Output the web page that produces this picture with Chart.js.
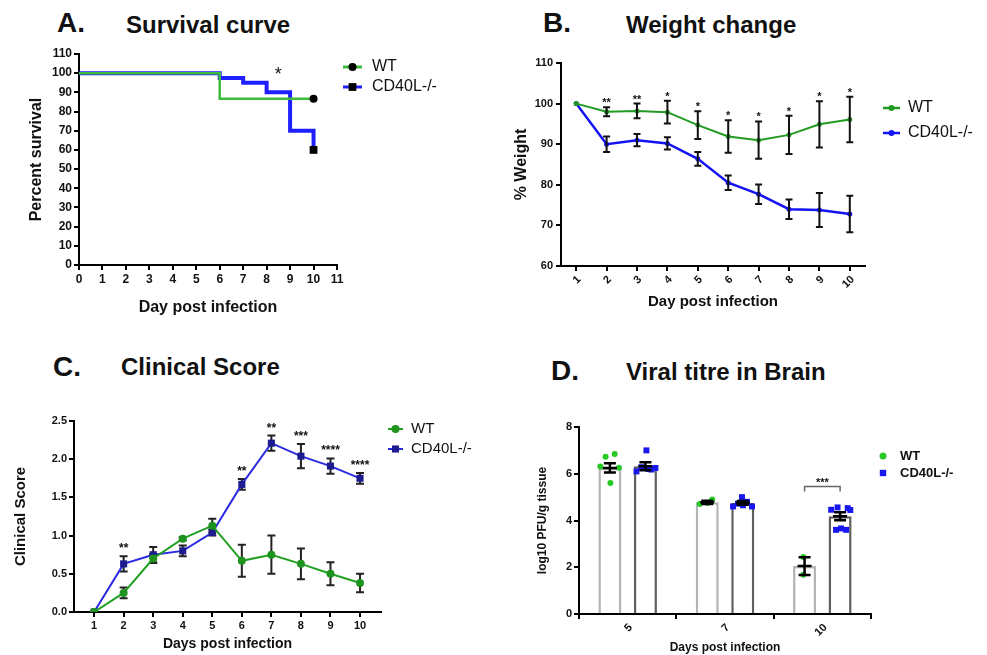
<!DOCTYPE html>
<html>
<head>
<meta charset="utf-8">
<script src="https://cdn.jsdelivr.net/npm/chart.js@4.4.1/dist/chart.umd.min.js"></script>
<style>
html, body { margin: 0; padding: 0; background: #fff; }
body { width: 987px; height: 655px; position: relative; overflow: hidden; font-family: "Liberation Sans", Arial, sans-serif; }
.lbl { position: absolute; font-weight: bold; color: #111; line-height: 1; white-space: nowrap; }
canvas { position: absolute; }
</style>
</head>
<body>
<div class="lbl" style="left:57px;top:9px;font-size:28px">A.</div>
<div class="lbl" style="left:126px;top:13px;font-size:24px">Survival curve</div>
<div class="lbl" style="left:543px;top:9px;font-size:28px">B.</div>
<div class="lbl" style="left:626px;top:13px;font-size:24px">Weight change</div>
<div class="lbl" style="left:53px;top:353px;font-size:28px">C.</div>
<div class="lbl" style="left:121px;top:355px;font-size:24px">Clinical Score</div>
<div class="lbl" style="left:551px;top:357px;font-size:28px">D.</div>
<div class="lbl" style="left:626px;top:360px;font-size:24px">Viral titre in Brain</div>

<canvas id="chartA" width="480" height="285" style="left:0;top:40px"></canvas>
<canvas id="chartB" width="487" height="285" style="left:500px;top:40px"></canvas>
<canvas id="chartC" width="500" height="265" style="left:0;top:390px"></canvas>
<canvas id="chartD" width="487" height="265" style="left:500px;top:390px"></canvas>

<script>
// ---- A. survival ----
const wtSurvivalDays = [0, 6, 10];
const wtSurvival = [100, 86.7, 86.7];
const cdSurvivalDays = [0, 6, 7, 8, 9, 10];
const cdSurvival = [100, 97.5, 95, 90, 70, 60];
const survivalNote = { x: 8.5, y: 100.5, text: '*' };

// ---- B. weight ----
const weightDays = ['1', '2', '3', '4', '5', '6', '7', '8', '9', '10'];
const wtWeight = [100, 98.0, 98.2, 97.9, 94.7, 91.9, 91.0, 92.3, 94.9, 96.1];
const wtWeightErr = [0, 1.1, 1.8, 2.8, 3.4, 4.0, 4.6, 4.7, 5.7, 5.6];
const cdWeight = [100, 90.0, 91.0, 90.2, 86.4, 80.5, 77.7, 74.0, 73.8, 72.8];
const cdWeightErr = [0, 1.9, 1.5, 1.5, 1.7, 1.8, 2.4, 2.4, 4.2, 4.5];
const weightStars = ['', '**', '**', '*', '*', '*', '*', '*', '*', '*'];

// ---- C. clinical score ----
const scoreDays = [1, 2, 3, 4, 5, 6, 7, 8, 9, 10];
const wtScore = [0, 0.25, 0.70, 0.96, 1.13, 0.67, 0.75, 0.63, 0.50, 0.38];
const wtScoreErr = [0, 0.07, 0.06, 0.02, 0.09, 0.21, 0.25, 0.20, 0.15, 0.12];
const cdScore = [0, 0.63, 0.75, 0.80, 1.04, 1.67, 2.21, 2.04, 1.91, 1.75];
const cdScoreErr = [0, 0.10, 0.10, 0.07, 0.04, 0.07, 0.10, 0.16, 0.10, 0.07];
const scoreStars = ['', '**', '', '', '', '**', '**', '***', '****', '****'];

// ---- D. viral titre ----
const titreDays = ['5', '7', '10'];
const wtTitre = [6.25, 4.78, 2.05];
const wtTitreErr = [0.20, 0.07, 0.38];
const cdTitre = [6.32, 4.75, 4.18];
const cdTitreErr = [0.17, 0.08, 0.17];
const wtTitrePoints = [[6.73, 6.84, 6.31, 6.26, 5.60], [4.71, 4.90, 4.75], [2.44, 1.68]];
const wtTitreJitter = [[-0.044, 0.049, -0.098, 0.093, 0.005], [-0.077, 0.051, 0], [-0.013, -0.013]];
const cdTitrePoints = [[7.0, 6.1, 6.28, 6.2, 6.25, 6.18], [4.6, 5.0, 4.6, 4.72, 4.8, 4.65], [4.46, 4.56, 4.53, 4.45, 3.6, 3.66, 3.6]];
const cdTitreJitter = [[0.01, -0.092, -0.041, 0.031, 0.103, 0.062], [-0.1, -0.008, 0.095, -0.049, 0.044, 0.003], [-0.092, -0.026, 0.078, 0.105, -0.042, 0.01, 0.062]];
const titreBracket = { index: 2, y: 5.45, text: '***' };

const FONT = '"Liberation Sans", Arial, sans-serif';
Chart.defaults.font.family = FONT;
Chart.defaults.color = '#111';

function marker(ctx, style, x, y, r, color) {
    ctx.fillStyle = color;
    ctx.beginPath();
    if (style === 'rect') { const h = r * Math.SQRT1_2; ctx.rect(x - h, y - h, 2 * h, 2 * h); }
    else ctx.arc(x, y, r, 0, Math.PI * 2);
    ctx.fill();
}

// legend drawn at the side, line + marker like the original
const sideLegend = {
    id: 'sideLegend',
    afterDraw(chart, args, o) {
        const ctx = chart.ctx;
        ctx.save();
        o.order.forEach((di, k) => {
            const ds = chart.data.datasets[di];
            const y = o.y + k * o.gap;
            if (o.line) {
                ctx.strokeStyle = ds.borderColor; ctx.lineWidth = o.lineWidth;
                ctx.beginPath(); ctx.moveTo(o.lineFrom, y); ctx.lineTo(o.lineTo, y); ctx.stroke();
            }
            marker(ctx, ds.pointStyle, o.markerX, y, o.r[k], ds.pointBackgroundColor || ds.backgroundColor);
            ctx.fillStyle = '#111'; ctx.font = o.font; ctx.textBaseline = 'middle'; ctx.textAlign = 'left';
            ctx.fillText(ds.label, o.textX, y);
        });
        ctx.restore();
    }
};

function drawErrors(chart, o) {
    const ctx = chart.ctx, ys = chart.scales.y;
    ctx.save();
    ctx.strokeStyle = o.color; ctx.lineWidth = o.width; ctx.lineCap = 'butt';
    chart.data.datasets.forEach((ds, di) => {
        if (!ds.errors) return;
        const meta = chart.getDatasetMeta(di);
        meta.data.forEach((el, i) => {
            const e = ds.errors[i];
            if (!e) return;
            const v = meta.controller.getParsed(i).y;
            const t = ys.getPixelForValue(v + e), b = ys.getPixelForValue(v - e), x = el.x;
            ctx.beginPath();
            ctx.moveTo(x, t); ctx.lineTo(x, b);
            ctx.moveTo(x - o.cap, t); ctx.lineTo(x + o.cap, t);
            ctx.moveTo(x - o.cap, b); ctx.lineTo(x + o.cap, b);
            if (o.mean) { const m = ys.getPixelForValue(v); ctx.moveTo(x - o.mean, m); ctx.lineTo(x + o.mean, m); }
            ctx.stroke();
        });
    });
    ctx.restore();
}
const errorBars = {
    id: 'errorBars',
    beforeDatasetsDraw(chart, a, o) { if (o.under) drawErrors(chart, o); },
    afterDatasetsDraw(chart, a, o) { if (!o.under) drawErrors(chart, o); }
};

// significance marks above the highest error bar of each day
const stars = {
    id: 'stars',
    afterDatasetsDraw(chart, a, o) {
        if (!o.marks) return;
        const ctx = chart.ctx, ys = chart.scales.y;
        ctx.save();
        ctx.font = o.font; ctx.fillStyle = '#111'; ctx.textAlign = 'center'; ctx.textBaseline = 'alphabetic';
        o.marks.forEach((s, i) => {
            if (!s) return;
            let top = Infinity;
            chart.data.datasets.forEach((ds, di) => {
                const v = chart.getDatasetMeta(di).controller.getParsed(i).y;
                top = Math.min(top, ys.getPixelForValue(v + (ds.errors ? ds.errors[i] : 0)));
            });
            ctx.fillText(s, chart.getDatasetMeta(0).data[i].x, top - o.gap);
        });
        ctx.restore();
    }
};

const note = {
    id: 'note',
    afterDatasetsDraw(chart, a, o) {
        if (!o.text) return;
        const ctx = chart.ctx;
        ctx.save();
        ctx.font = o.font; ctx.fillStyle = '#111'; ctx.textAlign = 'center'; ctx.textBaseline = 'middle';
        ctx.fillText(o.text, chart.scales.x.getPixelForValue(o.x), chart.scales.y.getPixelForValue(o.y) + 3);
        ctx.restore();
    }
};

const bracket = {
    id: 'bracket',
    afterDatasetsDraw(chart, a, o) {
        if (o.text == null) return;
        const ctx = chart.ctx;
        const x1 = chart.getDatasetMeta(0).data[o.index].x, x2 = chart.getDatasetMeta(1).data[o.index].x;
        const y = chart.scales.y.getPixelForValue(o.y);
        ctx.save();
        ctx.strokeStyle = '#666'; ctx.lineWidth = 1.5;
        ctx.beginPath(); ctx.moveTo(x1, y + 5); ctx.lineTo(x1, y); ctx.lineTo(x2, y); ctx.lineTo(x2, y + 5); ctx.stroke();
        ctx.font = 'bold 11px ' + FONT; ctx.fillStyle = '#111'; ctx.textAlign = 'center'; ctx.textBaseline = 'alphabetic';
        ctx.fillText(o.text, (x1 + x2) / 2, y - 1);
        ctx.restore();
    }
};

function axis(extra) {
    return Object.assign({
        border: { color: '#000', width: 2 },
        grid: { drawOnChartArea: false, color: '#000', lineWidth: 2, tickLength: 5 }
    }, extra);
}

const base = {
    responsive: false,
    animation: false,
    events: []
};

// ---------- A ----------
new Chart(document.getElementById('chartA'), {
    type: 'line',
    data: {
        datasets: [
            {
                label: 'WT',
                data: wtSurvivalDays.map((d, i) => ({ x: d, y: wtSurvival[i] })),
                borderColor: '#3cbb3c', borderWidth: 2.5, stepped: true,
                pointStyle: 'circle', pointBackgroundColor: '#000', pointBorderWidth: 0,
                pointRadius: wtSurvival.map((v, i) => i === wtSurvival.length - 1 ? 4 : 0)
            },
            {
                label: 'CD40L-/-',
                data: cdSurvivalDays.map((d, i) => ({ x: d, y: cdSurvival[i] })),
                borderColor: '#1f1fff', borderWidth: 4, stepped: true,
                pointStyle: 'rect', pointBackgroundColor: '#000', pointBorderWidth: 0,
                pointRadius: cdSurvival.map((v, i) => i === cdSurvival.length - 1 ? 5.5 : 0)
            }
        ]
    },
    options: Object.assign({}, base, {
        layout: { padding: { left: 0, top: 14, right: 143, bottom: 0 } },
        plugins: {
            legend: { display: false }, tooltip: { enabled: false },
            sideLegend: { order: [0, 1], y: 27, gap: 20, line: true, lineWidth: 3, lineFrom: 343, lineTo: 362, markerX: 352.5, r: [4, 5.5], textX: 372, font: '16px ' + FONT },
            note: Object.assign({ font: '18px ' + FONT }, survivalNote)
        },
        scales: {
            x: axis({
                type: 'linear', min: 0, max: 11,
                ticks: { stepSize: 1, padding: 2, font: { size: 12, weight: 'bold' } },
                title: { display: true, text: 'Day post infection', font: { size: 16, weight: 'bold' }, padding: { top: 0, bottom: 8 } },
                afterFit: s => { s.height = 60; }
            }),
            y: axis({
                type: 'linear', min: 0, max: 110,
                ticks: { stepSize: 10, padding: 2, font: { size: 12, weight: 'bold' } },
                title: { display: true, text: 'Percent survival', font: { size: 16, weight: 'bold' }, padding: { top: 27, bottom: 0 } },
                afterFit: s => { s.width = 79; }
            })
        }
    }),
    plugins: [sideLegend, note]
});

// ---------- B ----------
new Chart(document.getElementById('chartB'), {
    type: 'line',
    data: {
        labels: weightDays,
        datasets: [
            { label: 'WT', data: wtWeight, errors: wtWeightErr, borderColor: '#229a22', borderWidth: 2, pointStyle: 'circle', pointRadius: 2.5, pointBackgroundColor: '#229a22', pointBorderWidth: 0 },
            { label: 'CD40L-/-', data: cdWeight, errors: cdWeightErr, borderColor: '#1414f2', borderWidth: 2.5, pointStyle: 'circle', pointRadius: 2.5, pointBackgroundColor: '#1414f2', pointBorderWidth: 0 }
        ]
    },
    options: Object.assign({}, base, {
        layout: { padding: { left: 0, top: 23, right: 122, bottom: 0 } },
        plugins: {
            legend: { display: false }, tooltip: { enabled: false },
            sideLegend: { order: [0, 1], y: 68, gap: 25, line: true, lineWidth: 2.5, lineFrom: 383, lineTo: 400, markerX: 391.5, r: [3, 3], textX: 408, font: '16px ' + FONT },
            errorBars: { color: '#111', width: 2, cap: 3.5, under: false },
            stars: { marks: weightStars, font: 'bold 11px ' + FONT, gap: 1 }
        },
        scales: {
            x: axis({
                offset: true,
                grid: { drawOnChartArea: false, color: '#000', lineWidth: 2, tickLength: 5, offset: false },
                ticks: { minRotation: 45, maxRotation: 45, autoSkip: false, padding: 2, labelOffset: 3, font: { size: 11, weight: 'bold' } },
                title: { display: true, text: 'Day post infection', font: { size: 15, weight: 'bold' }, padding: { top: 0, bottom: 14 } },
                afterFit: s => { s.height = 59; }
            }),
            y: axis({
                min: 60, max: 110,
                ticks: { stepSize: 10, padding: 3, font: { size: 11, weight: 'bold' } },
                title: { display: true, text: '% Weight', font: { size: 16, weight: 'bold' }, padding: { top: 12, bottom: 0 } },
                afterFit: s => { s.width = 61; }
            })
        }
    }),
    plugins: [sideLegend, errorBars, stars]
});

// ---------- C ----------
new Chart(document.getElementById('chartC'), {
    type: 'line',
    data: {
        datasets: [
            { label: 'WT', data: scoreDays.map((d, i) => ({ x: d, y: wtScore[i] })), errors: wtScoreErr, borderColor: '#22a022', borderWidth: 2, pointStyle: 'circle', pointRadius: 4, pointBackgroundColor: '#1e941e', pointBorderWidth: 0 },
            { label: 'CD40L-/-', data: scoreDays.map((d, i) => ({ x: d, y: cdScore[i] })), errors: cdScoreErr, borderColor: '#2a2ae0', borderWidth: 2, pointStyle: 'rect', pointRadius: 5, pointBackgroundColor: '#1c1c8e', pointBorderWidth: 0 }
        ]
    },
    options: Object.assign({}, base, {
        layout: { padding: { left: 0, top: 31, right: 119, bottom: 0 } },
        plugins: {
            legend: { display: false }, tooltip: { enabled: false },
            sideLegend: { order: [0, 1], y: 39, gap: 20, line: true, lineWidth: 2, lineFrom: 388, lineTo: 403, markerX: 395.5, r: [4, 5], textX: 411, font: '15px ' + FONT },
            errorBars: { color: '#222', width: 2, cap: 4, under: true },
            stars: { marks: scoreStars, font: 'bold 12px ' + FONT, gap: 4 }
        },
        scales: {
            x: axis({
                type: 'linear', min: 0.32, max: 10.71,
                afterBuildTicks: s => { s.ticks = scoreDays.map(v => ({ value: v })); },
                ticks: { padding: 2, font: { size: 11, weight: 'bold' } },
                title: { display: true, text: 'Days post infection', font: { size: 14, weight: 'bold' }, padding: { top: 0, bottom: 2 } },
                afterFit: s => { s.height = 43; }
            }),
            y: axis({
                min: 0, max: 2.5,
                ticks: { stepSize: 0.5, padding: 2, font: { size: 11, weight: 'bold' }, callback: v => Number(v).toFixed(1) },
                title: { display: true, text: 'Clinical Score', font: { size: 15, weight: 'bold' }, padding: { top: 12, bottom: 0 } },
                afterFit: s => { s.width = 74; }
            })
        }
    }),
    plugins: [sideLegend, errorBars, stars]
});

// ---------- D ----------
// days sit at 0,1,2 on a linear axis; the two genotypes sit either side of each day
const groupShift = 0.1825;
function bars(values, shift) {
    return values.map((v, g) => ({ x: g + shift, y: v }));
}
function dots(points, jitter, shift) {
    const out = [];
    points.forEach((vals, g) => vals.forEach((v, k) => out.push({ x: g + shift + jitter[g][k], y: v })));
    return out;
}
new Chart(document.getElementById('chartD'), {
    type: 'bar',
    data: {
        datasets: [
            { type: 'bar', label: 'WT', data: bars(wtTitre, -groupShift), errors: wtTitreErr, grouped: false, maxBarThickness: 23, backgroundColor: '#fff', borderColor: '#b4b4b4', borderWidth: 2.5, order: 2 },
            { type: 'bar', label: 'CD40L-/-', data: bars(cdTitre, groupShift), errors: cdTitreErr, grouped: false, maxBarThickness: 23, backgroundColor: '#fff', borderColor: '#5e5e5e', borderWidth: 2.5, order: 2 },
            { type: 'scatter', label: 'WT', data: dots(wtTitrePoints, wtTitreJitter, -groupShift), pointStyle: 'circle', pointRadius: 3, backgroundColor: '#26c926', pointBackgroundColor: '#26c926', pointBorderWidth: 0, order: 1 },
            { type: 'scatter', label: 'CD40L-/-', data: dots(cdTitrePoints, cdTitreJitter, groupShift), pointStyle: 'rect', pointRadius: 4.2, backgroundColor: '#1717ee', pointBackgroundColor: '#1717ee', pointBorderWidth: 0, order: 1 }
        ]
    },
    options: Object.assign({}, base, {
        layout: { padding: { left: 0, top: 37, right: 116, bottom: 0 } },
        plugins: {
            legend: { display: false }, tooltip: { enabled: false },
            sideLegend: { order: [2, 3], y: 66, gap: 17, line: false, markerX: 383, r: [3.5, 4.5], textX: 400, font: 'bold 13px ' + FONT },
            errorBars: { color: '#000', width: 2.5, cap: 6, mean: 7, under: false },
            bracket: titreBracket
        },
        scales: {
            x: axis({
                type: 'linear', min: -0.5, max: 2.5, offset: false,
                afterBuildTicks: s => { s.ticks = titreDays.map((d, g) => ({ value: g })); },
                ticks: { minRotation: 45, maxRotation: 45, autoSkip: false, padding: 2, labelOffset: 3, font: { size: 11, weight: 'bold' }, callback: v => titreDays[Math.round(v)] },
                title: { display: true, text: 'Days post infection', font: { size: 12, weight: 'bold' }, padding: { top: 0, bottom: 0 } },
                afterFit: s => { s.height = 41; }
            }),
            y: axis({
                min: 0, max: 8,
                ticks: { stepSize: 2, padding: 2, font: { size: 11, weight: 'bold' } },
                title: { display: true, text: 'log10 PFU/g tissue', font: { size: 12, weight: 'bold' }, padding: { top: 35, bottom: 0 } },
                afterFit: s => { s.width = 79; }
            })
        }
    }),
    plugins: [sideLegend, errorBars, bracket]
});
</script>
</body>
</html>
